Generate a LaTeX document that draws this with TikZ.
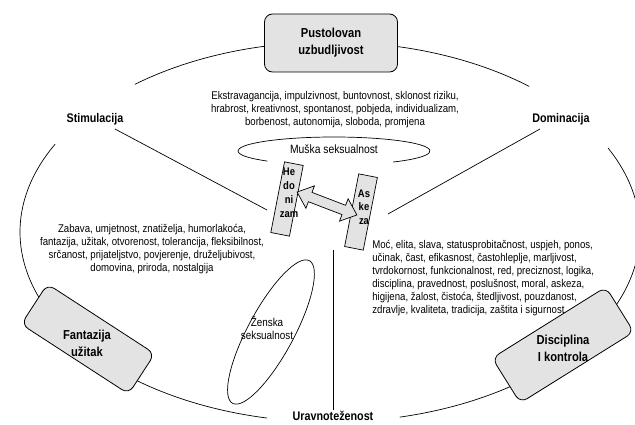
\documentclass[tikz,border=0pt]{standalone}
\usepackage{fontspec}
\setmainfont[FakeStretch=0.86]{Liberation Sans}
\definecolor{boxgray}{HTML}{E3E3E3}
\begin{document}
\begin{tikzpicture}[x=1pt,y=1pt,line width=0.7pt,
  lbl/.style={font=\fontsize{12.5}{14}\selectfont\bfseries, inner sep=1pt},
  para/.style={font=\fontsize{11.2}{13}\selectfont, align=center, inner sep=0pt},
  rpara/.style={font=\fontsize{11.2}{13}\selectfont, align=left, inner sep=0pt},
  rbox/.style={draw, fill=boxgray, rounded corners=8pt, line width=0.8pt, font=\fontsize{13}{17}\selectfont\bfseries, align=center},
  bar/.style={draw, fill=boxgray, line width=0.7pt, minimum width=19pt, minimum height=72pt, inner sep=0pt},
  bartext/.style={font=\fontsize{11}{14}\selectfont\bfseries, align=center, inner sep=0pt},
  ell/.style={font=\fontsize{12}{13}\selectfont, align=center, inner sep=0pt}]
\useasboundingbox (0,0) rectangle (635,-425);

% big ellipse (three arcs)
\coordinate (E) at (330,-232);
\draw (E) ++(50:310pt and 190pt) arc[start angle=50, end angle=129, x radius=310pt, y radius=190pt];
\draw (E) ++(152.5:310pt and 190pt) arc[start angle=152.5, end angle=258.3, x radius=310pt, y radius=190pt];
\draw (E) ++(-77:310pt and 190pt) arc[start angle=-77, end angle=26.2, x radius=310pt, y radius=190pt];

% boxes on the ellipse
\node[rbox, minimum width=133pt, minimum height=58pt] (pust) at (331,-43) {Pustolovan\\uzbudljivost};
\node[rbox, minimum width=128pt, minimum height=48pt, rotate=-33] (fant) at (88,-339) {};
\node[rbox, minimum width=134pt, minimum height=53pt, rotate=32] (disc) at (563,-345) {};
\node[lbl, font=\fontsize{13}{17}\selectfont\bfseries, align=center] (fantt) at (87,-343) {Fantazija\\užitak};
\node[lbl, font=\fontsize{13}{17}\selectfont\bfseries, align=center] (disct) at (563,-348) {Disciplina\\I kontrola};

% labels
\node[lbl] (stim) at (95,-119) {Stimulacija};
\node[lbl] (domi) at (561,-119) {Dominacija};
\node[lbl] (urav) at (333,-416) {Uravnoteženost};

% Muska ellipse (open at the bottom middle)
\coordinate (M) at (334,-151);
\draw (M) ++(-52:96pt and 14pt) arc[start angle=-52, end angle=226, x radius=96pt, y radius=14pt];
\node[ell] (musk) at (334,-149) {Muška seksualnost};

% Zenska ellipse
\coordinate (Z) at (271,-332);
\draw[rotate around={61.7:(Z)}] (Z) ellipse[x radius=81pt, y radius=23pt];
\node[ell, font=\fontsize{11.5}{12.5}\selectfont] (zen) at (267,-328) {Ženska\\seksualnost};

% connector lines
\coordinate (s1) at (115,-129);
\coordinate (s2) at (267,-210);
\draw (s1) -- (s2);
\coordinate (d1) at (540,-129);
\coordinate (d2) at (388,-214);
\draw (d1) -- (d2);
\coordinate (u1) at (333,-250);
\draw (u1) -- (urav.north);

% bars
\node[bar, rotate=-11] (hed) at (287,-199) {};
\node[bar, minimum height=74pt, rotate=-11] (ask) at (361,-212) {};
\node[bartext] (hedt) at (289,-193) {He\\do\\ni\\zam};
\node[bartext, font=\fontsize{11}{13.5}\selectfont\bfseries] (askt) at (364,-207) {As\\ke\\za};

% double arrow
\begin{scope}[shift={(327,-203.5)}, rotate=-21]
\draw[fill=boxgray, line width=0.7pt] (-32,0) -- (-18,12) -- (-18,5) -- (18,5) -- (18,12) -- (32,0) -- (18,-12) -- (18,-5) -- (-18,-5) -- (-18,-12) -- cycle;
\end{scope}

% paragraphs
\node[para] (ptop) at (335,-110) {Ekstravagancija, impulzivnost, buntovnost, sklonost riziku,\\hrabrost, kreativnost, spontanost, pobjeda, individualizam,\\borbenost, autonomija, sloboda, promjena};
\node[para] (pleft) at (152,-249.5) {Zabava, umjetnost, znatiželja, humorlakoća,\\fantazija, užitak, otvorenost, tolerancija, fleksibilnost,\\srčanost, prijateljstvo, povjerenje, druželjubivost,\\domovina, priroda, nostalgija};
\node[rpara, anchor=north west] (pright) at (372,-239.5) {Moć, elita, slava, statusprobitačnost, uspjeh, ponos,\\učinak, čast, efikasnost, častohleplje, marljivost,\\tvrdokornost, funkcionalnost, red, preciznost, logika,\\disciplina, pravednost, poslušnost, moral, askeza,\\higijena, žalost, čistoća, štedljivost, pouzdanost,\\zdravlje, kvaliteta, tradicija, zaštita i sigurnost};
\end{tikzpicture}
\end{document}
